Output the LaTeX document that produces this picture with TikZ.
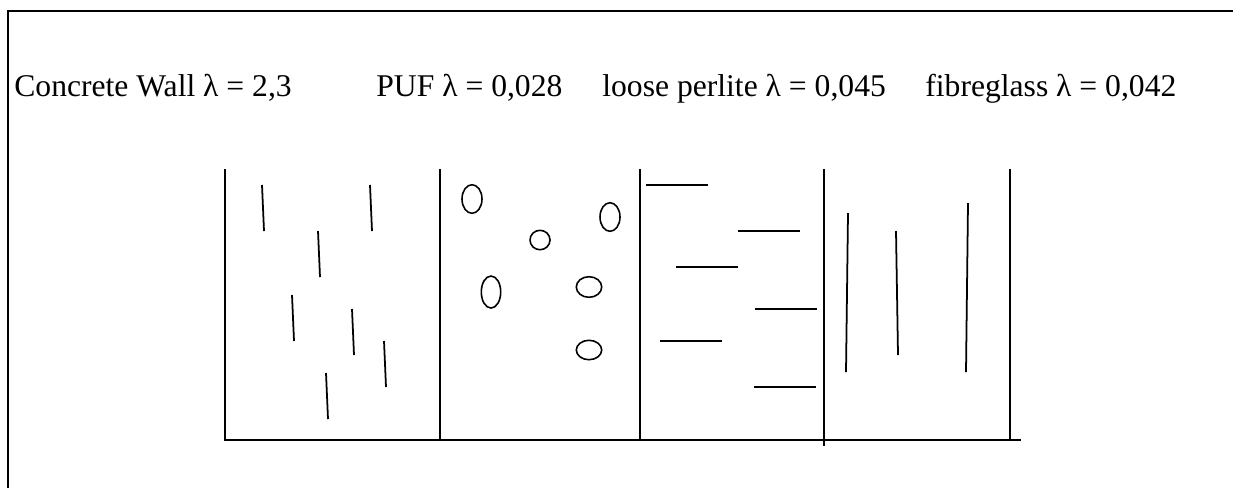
\documentclass[tikz,border=0pt]{standalone}
\usepackage{fontspec}
\setmainfont{Liberation Serif}

\begin{document}
\begin{tikzpicture}[
    x=0.02cm, y=-0.02cm,
    every node/.style={font=\fontsize{18}{21}\selectfont, inner sep=0pt},
    label/.style={anchor=base west},
    wall/.style={line width=1.1pt},
    fleck/.style={line width=1pt},
    bead/.style={line width=0.9pt}
]

\useasboundingbox (0,0) rectangle (1233,488);

% ============ FRAME ============
\draw[line width=0.6pt] (8,488) -- (8,11) -- (1233,11);

% ============ MATERIAL LABELS ============
\node[label] (concrete) at (14,96) {Concrete Wall λ = 2,3};
\node[label] (puf) at (376,96) {PUF λ = 0,028};
\node[label] (perlite) at (602,96) {loose perlite λ = 0,045};
\node[label] (fibre) at (925,96) {fibreglass λ = 0,042};

% ============ CONTAINER ============
\draw[wall] (225,169) -- (225,440) -- (1021,440);
\draw[wall] (440,169) -- (440,440);
\draw[wall] (640,169) -- (640,440);
\draw[wall] (824,169) -- (824,446);
\draw[wall] (1010,169) -- (1010,440);

% Concrete: short slanted strokes
\foreach \x/\y in {262/185, 370/185, 318/231, 292/295, 352/309, 384/341, 326/373}
    \draw[fleck] (\x,\y) -- ++(2,46);

% PUF: closed cells
\foreach \x/\y/\a/\b in {472/199/10/14.3, 540/240/10/9.7, 610/217/10/14.3,
                         491/292/9.7/16, 589/287/12.7/10.3, 589/350/12.7/9.7}
    \draw[bead] (\x,\y) ellipse [x radius=\a, y radius=\b];

% Loose perlite: flat flakes
\foreach \x/\y in {646/185, 738/231, 676/267, 755/309, 660/341, 754/387}
    \draw[fleck] (\x,\y) -- ++(62,0);

% Fibreglass: long fibres
\draw[fleck] (848,213) -- (846,372);
\draw[fleck] (896,231) -- (898,355);
\draw[fleck] (968,203) -- (966,372);

\end{tikzpicture}
\end{document}
